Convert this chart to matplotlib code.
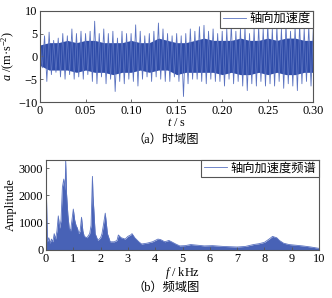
import matplotlib
matplotlib.use("Agg")
import matplotlib.pyplot as plt
import numpy as np

plt.rcParams['font.family'] = ['Liberation Serif', 'Noto Sans CJK SC']
plt.rcParams['font.size'] = 8.8
plt.rcParams['mathtext.fontset'] = 'custom'
plt.rcParams['mathtext.rm'] = 'Liberation Serif'
plt.rcParams['mathtext.it'] = 'Liberation Serif:italic'

# time signal: peak values read every 0.005 s (upper / lower envelope)
t_step = 0.005
acc_upper = [3.5, 4.5, 5.3, 3.5, 4.0, 5.0, 4.5, 6.0, 5.0, 5.5,
             5.0, 5.5, 7.7, 5.0, 6.0, 5.0, 5.5, 4.0, 5.5, 5.0,
             5.0, 6.9, 5.5, 4.5, 5.0, 5.5, 7.3, 6.0, 5.0, 4.5,
             5.0, 4.5, 5.0, 6.0, 5.5, 6.5, 6.8, 5.5, 6.0, 5.0,
             5.5, 6.0, 7.0, 5.5, 6.0, 6.5, 5.0, 6.0, 6.5, 6.0,
             7.0, 6.0, 6.5, 6.0, 7.0, 5.5, 6.5, 7.0, 6.0, 6.5,
             6.0]
acc_lower = [-2.5, -5.5, -4.0, -3.5, -4.5, -5.0, -4.0, -5.0, -4.5, -5.0,
             -4.0, -5.5, -6.0, -4.5, -6.0, -5.0, -7.7, -5.5, -6.0, -5.0,
             -5.5, -6.5, -5.0, -4.5, -5.5, -4.5, -5.0, -5.5, -5.5, -4.5,
             -5.5, -8.8, -6.0, -5.0, -5.0, -5.5, -6.0, -5.0, -5.5, -5.5,
             -6.5, -5.0, -6.0, -5.5, -6.5, -7.5, -6.0, -6.5, -5.5, -6.5,
             -6.0, -6.5, -5.5, -7.0, -6.0, -6.5, -7.5, -6.0, -5.5, -6.5,
             -5.5]
# dense dark core of the trace, read every 0.01 s
core_step = 0.01
core_upper = [2.5, 3.0, 3.0, 3.5, 3.0, 3.5, 3.5, 3.0, 3.0, 3.0,
              3.5, 3.0, 3.0, 4.0, 3.5, 3.0, 3.0, 3.5, 4.0, 3.5,
              3.5, 3.5, 4.0, 3.5, 3.5, 4.0, 3.5, 4.0, 4.0, 3.5,
              3.5]
core_lower = [-2.0, -3.0, -3.0, -3.0, -3.5, -3.0, -3.5, -3.5, -4.0, -3.5,
              -3.5, -3.0, -3.5, -3.0, -3.0, -4.0, -3.5, -3.5, -3.5, -3.5,
              -4.0, -3.5, -4.0, -4.0, -3.5, -4.0, -3.5, -4.0, -4.0, -3.5,
              -3.5]

# spectrum: peak amplitude
freq_khz = [0.00, 0.02, 0.05, 0.10, 0.15, 0.20, 0.25, 0.30, 0.35, 0.40,
            0.45, 0.50, 0.55, 0.60, 0.65, 0.70, 0.72, 0.75, 0.80, 0.85,
            0.90, 0.95, 1.00, 1.05, 1.10, 1.15, 1.20, 1.25, 1.30, 1.35,
            1.40, 1.50, 1.60, 1.65, 1.70, 1.72, 1.75, 1.80, 1.90, 2.00,
            2.05, 2.10, 2.17, 2.25, 2.35, 2.50, 2.60, 2.65, 2.75, 2.90,
            3.00, 3.10, 3.15, 3.25, 3.40, 3.50, 3.70, 3.90, 4.00, 4.10,
            4.20, 4.35, 4.50, 4.60, 4.75, 4.90, 5.10, 5.30, 5.50, 5.80,
            6.10, 6.50, 7.00, 7.30, 7.60, 7.80, 8.00, 8.10, 8.20, 8.30,
            8.35, 8.45, 8.55, 8.70, 8.90, 9.10, 9.40, 9.70, 10.00]
amplitude = [2400, 1800, 300, 450, 250, 400, 300, 600, 400, 700,
             1250, 800, 1100, 2300, 2600, 2200, 3300, 2100, 1300, 800,
             700, 1100, 1500, 1100, 900, 800, 600, 700, 1200, 700,
             500, 450, 600, 900, 2700, 2000, 1500, 600, 350, 450,
             600, 900, 1350, 600, 300, 300, 350, 550, 450, 400,
             500, 550, 600, 450, 300, 220, 250, 300, 350, 400,
             380, 300, 350, 300, 220, 150, 160, 200, 180, 150,
             160, 130, 110, 130, 200, 230, 280, 350, 420, 500,
             480, 450, 350, 250, 200, 180, 150, 110, 60]

dark = '#2f4ca8'
mid = '#5a72c0'
edge = '#555555'

fig = plt.figure(figsize=(3.32, 2.98), dpi=100)
ax1 = fig.add_axes([0.1205, 0.6577, 0.8232, 0.3064])
ax2 = fig.add_axes([0.1386, 0.1611, 0.8222, 0.3020])

# ---- time domain
t = np.arange(len(acc_upper)) * t_step
tz = np.empty(2 * len(t))
tz[0::2] = t
tz[1::2] = t + t_step / 2
az = np.empty(2 * len(t))
az[0::2] = acc_upper
az[1::2] = acc_lower
tc = np.arange(len(core_upper)) * core_step
ax1.fill_between(tc, core_lower, core_upper, color=dark, lw=0)
ax1.plot(tz, az, color=mid, lw=0.6, label='轴向加速度')
ax1.set_xlim(0, 0.30)
ax1.set_ylim(-10, 10)
ax1.set_xticks([0, 0.05, 0.10, 0.15, 0.20, 0.25, 0.30])
ax1.set_xticklabels(['0', '0.05', '0.10', '0.15', '0.20', '0.25', '0.30'])
ax1.set_yticks([-10, -5, 0, 5, 10])
ax1.set_ylabel(r'$a$ /(m·s$^{-2}$)', labelpad=1)
ax1.set_xlabel(r'$t$ / s', labelpad=0)

# ---- frequency domain
ax2.fill_between(freq_khz, 0, amplitude, color='#4862b6', lw=0)
ax2.plot(freq_khz, amplitude, color=mid, lw=0.6, label='轴向加速度频谱')
ax2.set_xlim(0, 10)
ax2.set_ylim(0, 3300)
ax2.set_xticks(range(0, 11))
ax2.set_yticks([0, 1000, 2000, 3000])
ax2.set_ylabel('Amplitude', labelpad=1)
ax2.set_xlabel(r'$f$ / kHz', labelpad=0)

for ax in (ax1, ax2):
    for s in ax.spines.values():
        s.set_color(edge)
        s.set_linewidth(0.8)
    ax.tick_params(direction='in', length=2.5, width=0.6, color=edge, pad=2)
    leg = ax.legend(loc='upper right', borderaxespad=0, fancybox=False,
                    handlelength=1.9, handletextpad=0.3, borderpad=0.2,
                    framealpha=1)
    leg.get_frame().set_edgecolor(edge)
    leg.get_frame().set_linewidth(0.8)

fig.text(0.5, 0.530, '（a）时域图', ha='center', va='center')
fig.text(0.5, 0.034, '（b）频域图', ha='center', va='center')

fig.savefig('out.png', dpi=100)
